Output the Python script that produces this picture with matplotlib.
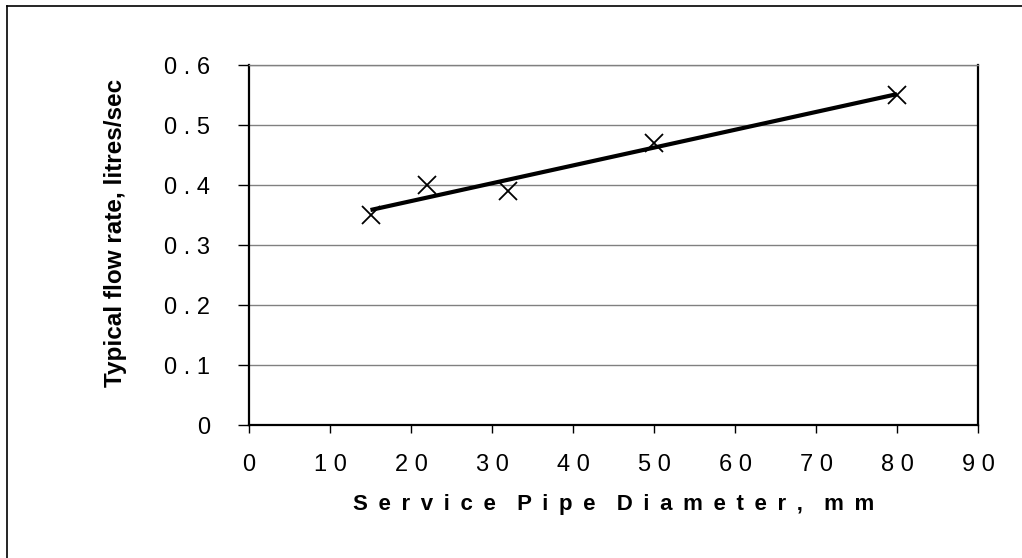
import numpy as np
import matplotlib
matplotlib.use("Agg")
import matplotlib.pyplot as plt
from matplotlib.lines import Line2D
from matplotlib.ticker import FuncFormatter

plt.rcParams['font.family'] = ['Liberation Sans', 'DejaVu Sans']

# data
diameter_mm = [15, 22, 32, 50, 80]
flow_lps = [0.35, 0.40, 0.39, 0.47, 0.55]
x_ticks = [0, 10, 20, 30, 40, 50, 60, 70, 80, 90]
y_ticks = [0, 0.1, 0.2, 0.3, 0.4, 0.5, 0.6]
x_label = "Service Pipe Diameter, mm"
y_label = "Typical flow rate, litres/sec"

GAP = " \u2009"


def spaced(s):
    return " ".join(s)


def wide(s):
    # letter-spaced title the way the original shows it
    words = [GAP.join(w) for w in s.split(" ")]
    return (GAP * 2).join(words)


fig = plt.figure(figsize=(10.22, 5.58), dpi=100)
ax = fig.add_axes([249 / 1022, 1 - 425 / 558, 729 / 1022, 360 / 558])

# linear trendline through the points
coef = np.polyfit(diameter_mm, flow_lps, 1)
xs = np.array([min(diameter_mm), max(diameter_mm)])
ax.plot(xs, np.polyval(coef, xs), color='black', lw=3.0, solid_capstyle='butt', zorder=3)
ax.plot(diameter_mm, flow_lps, ls='none', marker='x', ms=13, mew=1.3,
        color='black', zorder=4)

ax.set_xlim(0, 90)
ax.set_ylim(0, 0.6)
ax.set_xticks(x_ticks)
ax.set_yticks(y_ticks)
ax.xaxis.set_major_formatter(FuncFormatter(lambda v, p: spaced("%g" % v)))
ax.yaxis.set_major_formatter(FuncFormatter(lambda v, p: spaced("%g" % v)))

ax.yaxis.grid(True, color='#808080', lw=1.0)
ax.set_axisbelow(True)
ax.tick_params(axis='x', direction='out', length=6, width=1.0, pad=15,
               labelsize=17)
ax.tick_params(axis='y', direction='out', length=8, width=1.0, pad=20,
               labelsize=17)

for side in ['left', 'bottom', 'right']:
    ax.spines[side].set_color('black')
    ax.spines[side].set_linewidth(1.6)
ax.spines['top'].set_color('#808080')
ax.spines['top'].set_linewidth(1.0)

ax.set_xlabel(wide(x_label), fontsize=16, fontweight='bold', labelpad=13)
ax.set_ylabel(y_label, fontsize=17.5, fontweight='bold')
ax.yaxis.set_label_coords((127 - 249) / 729, (425 - 233) / 360)

# chart frame, only top and left edges show in the reference
fig.add_artist(Line2D([6.5 / 1022, 1], [1 - 5.5 / 558, 1 - 5.5 / 558],
                      color='black', lw=1.2, transform=fig.transFigure))
fig.add_artist(Line2D([6.5 / 1022, 6.5 / 1022], [0, 1 - 5.5 / 558],
                      color='black', lw=1.2, transform=fig.transFigure))

fig.savefig('out.png', dpi=100)
